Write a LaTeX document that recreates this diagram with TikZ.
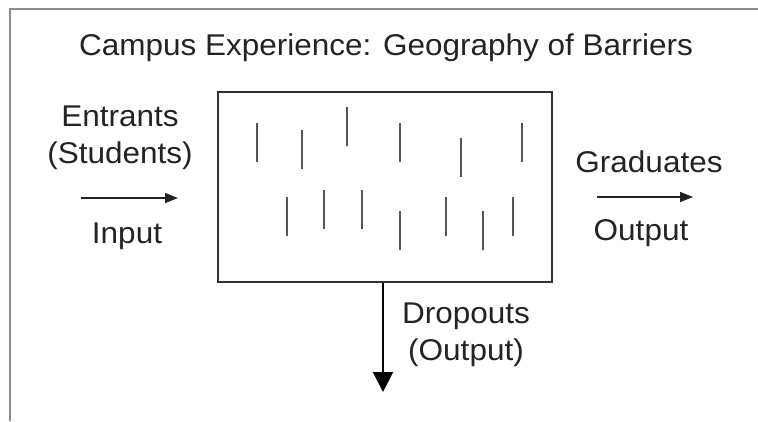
\documentclass[tikz,border=0pt]{standalone}
\usepackage{fontspec}
\setmainfont{Liberation Sans}[FakeStretch=1.05]
\usetikzlibrary{arrows.meta}
\definecolor{framegray}{RGB}{140,140,140}
\definecolor{boxgray}{RGB}{50,50,50}
\definecolor{bargray}{RGB}{85,85,85}
\definecolor{inkgray}{RGB}{35,35,35}
\begin{document}
\begin{tikzpicture}[x=1pt,y=-1pt,font=\fontsize{30}{37}\selectfont,text=inkgray,
	label/.style={align=center,inner sep=0pt,anchor=base},
	barrier/.style={bargray,line width=2.2pt},
	flow/.style={inkgray,line width=1.5pt,-{Triangle[length=13pt,width=10pt]}},
	drop/.style={black,line width=2pt,-{Triangle[length=20pt,width=20pt]}}]
	\useasboundingbox (0,0) rectangle (758,421);
	%frame
	\draw[framegray,line width=2pt] (758,9) -- (10,9) -- (10,421);

	%title
	\node[label] (title) at (386,55) {Campus Experience: Geography of Barriers};

	%campus box
	\node[draw=boxgray,line width=2pt,minimum width=334pt,minimum height=190pt,inner sep=0pt] (campus) at (385,187) {};

	%barriers
	\foreach \x/\y in {257/123,302/130,347/107,400/123,461/138,522/123,
		287/197,324/190,362/190,400/211,446/197,483/211,513/197}
		\draw[barrier] (\x,\y) -- ++(0,39);

	%input side
	\node[label] (entrants) at (120,163) {Entrants\\(Students)};
	\coordinate (instart) at (81,198);
	\coordinate (inend) at (178,198);
	\draw[flow] (instart) -- (inend); %input arrow
	\node[label] (input) at (127,243) {Input};

	%graduates
	\node[label] (graduates) at (649,172) {Graduates};
	\coordinate (gradstart) at (597,197);
	\coordinate (gradend) at (693,197);
	\draw[flow] (gradstart) -- (gradend); %graduates arrow
	\node[label] (gradout) at (641,240) {Output};

	%dropouts
	\coordinate (dropend) at (383,392);
	\draw[drop] (campus.south -| dropend) -- (dropend); %dropout arrow
	\node[label] (dropouts) at (466,360) {Dropouts\\(Output)};
\end{tikzpicture}
\end{document}
